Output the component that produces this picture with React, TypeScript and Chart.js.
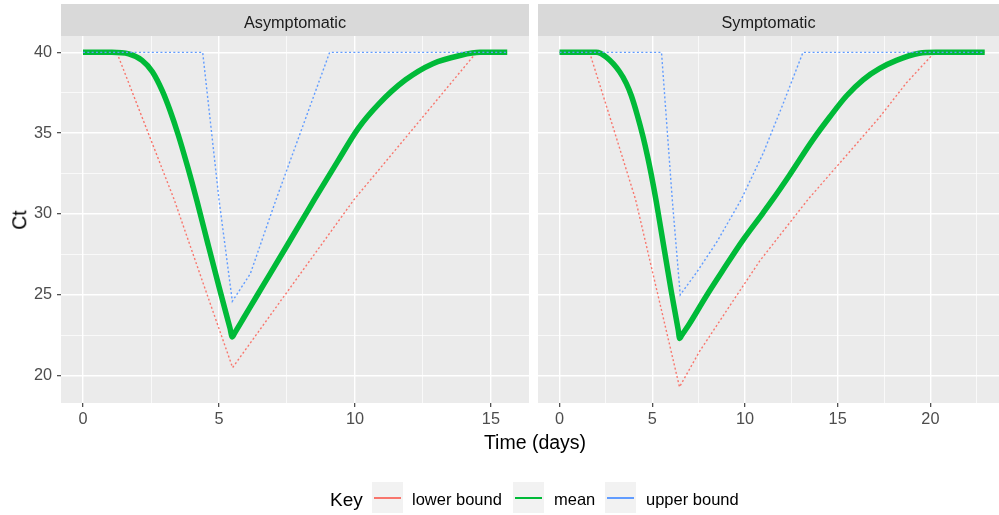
import React, { useEffect, useRef } from "react";
import { Chart, registerables } from "chart.js";

Chart.register(...registerables);

const FONT = '"Liberation Sans", Arial, Helvetica, sans-serif';
const RED = "#F8766D";
const GREEN = "#00BA38";
const BLUE = "#619CFF";

// ---------- data ----------
const seriesNames = ["lower bound", "mean", "upper bound"];
const panelTitles = ["Asymptomatic", "Symptomatic"];

const asymLowerX = [0, 1.24, 2.4, 3.35, 4.4, 5.5, 7.3, 9.97, 12.1, 14.47, 15.6];
const asymLowerY = [40, 40, 35, 30.9, 25.8, 20.5, 24.7, 30.9, 35.2, 40, 40];

const asymMeanX = [0, 1.06, 1.68, 2.17, 2.55, 2.92, 3.2, 3.5, 3.85, 4.19, 4.6, 5.0, 5.4, 5.49, 5.58, 5.9, 6.4, 6.89, 7.52, 8.14, 8.51, 9.38, 10.12, 10.87, 11.86, 12.86, 13.85, 14.6, 15.6];
const asymMeanY = [40, 40, 39.9, 39.5, 38.8, 37.6, 36.4, 34.9, 32.9, 30.8, 28.1, 25.5, 22.97, 22.4, 22.65, 23.55, 24.96, 26.33, 28.1, 29.85, 30.9, 33.3, 35.3, 36.8, 38.3, 39.3, 39.8, 40, 40];

const asymUpperX = [0, 4.4, 5.0, 5.49, 6.15, 7.1, 9.07, 15.6];
const asymUpperY = [40, 40, 30.9, 24.6, 26.3, 30.9, 40, 40];

const sympLowerX = [0, 1.62, 2.88, 4.1, 6.47, 7.55, 9.17, 10.8, 13.4, 15.3, 17.27, 18.7, 20.23, 22.93];
const sympLowerY = [40, 40, 35.4, 30.9, 19.3, 21.5, 24.3, 27.1, 30.9, 33.4, 36.0, 38.1, 40, 40];

const sympMeanX = [0, 1.98, 2.52, 3.24, 3.6, 3.87, 4.2, 4.5, 4.75, 4.95, 5.22, 5.49, 5.76, 6.03, 6.4, 6.48, 6.58, 7.0, 7.9, 8.8, 9.9, 10.97, 11.5, 12.4, 13.67, 14.57, 15.47, 16.37, 17.27, 18.17, 19.4, 20.3, 22.93];
const sympMeanY = [40, 40, 39.7, 38.8, 38.08, 37.33, 36.1, 34.8, 33.55, 32.43, 30.76, 28.9, 27.05, 25.2, 22.84, 22.3, 22.48, 23.2, 24.9, 26.5, 28.4, 30.06, 30.9, 32.4, 34.6, 36.0, 37.3, 38.3, 39.0, 39.5, 39.94, 40, 40];

const sympUpperX = [0, 5.5, 6.08, 6.51, 7.4, 8.5, 9.8, 11.0, 12.05, 13.13, 22.93];
const sympUpperY = [40, 40, 30.9, 25.0, 26.4, 28.3, 30.9, 33.8, 36.8, 40, 40];

const yTicks = [20, 25, 30, 35, 40];
const xTicksAsym = [0, 5, 10, 15];
const xTicksSymp = [0, 5, 10, 15, 20];

// ---------- helpers ----------
const zip = (xs: number[], ys: number[]) => xs.map((x, i) => ({ x, y: ys[i] }));

function withMinor(major: number[], min: number, max: number) {
  const step = major[1] - major[0];
  const out: number[] = [];
  for (let v = major[0] - step; v <= major[major.length - 1] + step + 1e-9; v += step / 2) {
    if (v >= min && v <= max) out.push(Math.round(v * 100) / 100);
  }
  return out;
}

const stripPlugin = {
  id: "strip",
  beforeDraw(chart: any, _args: any, o: any) {
    const { ctx, chartArea: a } = chart;
    ctx.save();
    ctx.fillStyle = "#EBEBEB";
    ctx.fillRect(a.left, a.top, a.right - a.left, a.bottom - a.top);
    ctx.fillStyle = "#D9D9D9";
    ctx.fillRect(a.left, o.top, a.right - a.left, a.top - o.top);
    ctx.fillStyle = "#1A1A1A";
    ctx.font = `16.3px ${FONT}`;
    ctx.textAlign = "center";
    ctx.textBaseline = "alphabetic";
    ctx.fillText(o.text, (a.left + a.right) / 2, 28.3);
    ctx.restore();
  },
};

function makeDatasets(lx: number[], ly: number[], mx: number[], my: number[], ux: number[], uy: number[]) {
  return [
    {
      label: seriesNames[0],
      data: zip(lx, ly),
      borderColor: RED,
      borderWidth: 1.4,
      borderDash: [2, 2.3],
      pointRadius: 0,
      tension: 0,
      order: 2,
    },
    {
      label: seriesNames[1],
      data: zip(mx, my),
      borderColor: GREEN,
      borderWidth: 5.5,
      borderJoinStyle: "round",
      cubicInterpolationMode: "monotone",
      pointRadius: 0,
      order: 1,
    },
    {
      label: seriesNames[2],
      data: zip(ux, uy),
      borderColor: BLUE,
      borderWidth: 1.4,
      borderDash: [2, 2.3],
      pointRadius: 0,
      tension: 0,
      order: 0,
    },
  ];
}

function makeConfig(p: {
  datasets: any[];
  xMin: number;
  xMax: number;
  xMajor: number[];
  showY: boolean;
  padLeft: number;
  padRight: number;
  title: string;
}): any {
  const yMin = 18.31;
  const yMax = 41.01;
  const xAll = withMinor(p.xMajor, p.xMin, p.xMax);
  const yAll = withMinor(yTicks, yMin, yMax);
  const isMajorX = (v: number) => p.xMajor.includes(v);
  const isMajorY = (v: number) => yTicks.includes(v);
  return {
    type: "line",
    data: { datasets: p.datasets },
    options: {
      responsive: false,
      animation: false,
      events: [],
      layout: { padding: { left: p.padLeft, right: p.padRight, top: 36, bottom: 82 } },
      plugins: {
        legend: { display: false },
        tooltip: { enabled: false },
        strip: { text: p.title, top: 4 },
      },
      scales: {
        x: {
          type: "linear",
          min: p.xMin,
          max: p.xMax,
          afterBuildTicks: (s: any) => {
            s.ticks = xAll.map((v) => ({ value: v }));
          },
          afterFit: (s: any) => {
            s.height = 30;
          },
          border: { display: false },
          grid: {
            color: "#FFFFFF",
            lineWidth: (c: any) => (c.tick && isMajorX(c.tick.value) ? 1.4 : 0.7),
            tickColor: (c: any) => (c.tick && isMajorX(c.tick.value) ? "#333333" : "rgba(0,0,0,0)"),
            tickLength: 4,
            tickWidth: 1.1,
          },
          ticks: {
            autoSkip: false,
            maxRotation: 0,
            padding: 3,
            color: "#4D4D4D",
            font: { family: FONT, size: 16.3 },
            callback: (v: number) => (isMajorX(v) ? String(v) : ""),
          },
        },
        y: {
          type: "linear",
          min: yMin,
          max: yMax,
          afterBuildTicks: (s: any) => {
            s.ticks = yAll.map((v) => ({ value: v }));
          },
          afterFit: (s: any) => {
            s.width = p.showY ? 61 : 0;
          },
          border: { display: false },
          grid: {
            color: "#FFFFFF",
            lineWidth: (c: any) => (c.tick && isMajorY(c.tick.value) ? 1.4 : 0.7),
            tickColor: (c: any) => (c.tick && isMajorY(c.tick.value) ? "#333333" : "rgba(0,0,0,0)"),
            tickLength: 4,
            tickWidth: 1.1,
            drawTicks: p.showY,
          },
          ticks: {
            display: p.showY,
            autoSkip: false,
            padding: 5,
            color: "#4D4D4D",
            font: { family: FONT, size: 16.3 },
            callback: (v: number) => (isMajorY(v) ? String(v) : ""),
          },
        },
      },
    },
    plugins: [stripPlugin],
  };
}

const legendItems = [
  { name: seriesNames[0], color: RED, keyLeft: 372, textLeft: 412 },
  { name: seriesNames[1], color: GREEN, keyLeft: 513, textLeft: 554 },
  { name: seriesNames[2], color: BLUE, keyLeft: 605, textLeft: 646 },
];

export default function App() {
  const leftRef = useRef<HTMLCanvasElement | null>(null);
  const rightRef = useRef<HTMLCanvasElement | null>(null);

  useEffect(() => {
    const c1 = new Chart(
      leftRef.current as HTMLCanvasElement,
      makeConfig({
        datasets: makeDatasets(asymLowerX, asymLowerY, asymMeanX, asymMeanY, asymUpperX, asymUpperY),
        xMin: -0.81,
        xMax: 16.4,
        xMajor: xTicksAsym,
        showY: true,
        padLeft: 0,
        padRight: 1,
        title: panelTitles[0],
      })
    );
    const c2 = new Chart(
      rightRef.current as HTMLCanvasElement,
      makeConfig({
        datasets: makeDatasets(sympLowerX, sympLowerY, sympMeanX, sympMeanY, sympUpperX, sympUpperY),
        xMin: -1.16,
        xMax: 23.7,
        xMajor: xTicksSymp,
        showY: false,
        padLeft: 8,
        padRight: 0,
        title: panelTitles[1],
      })
    );
    return () => {
      c1.destroy();
      c2.destroy();
    };
  }, []);

  return (
    <div
      style={{
        position: "absolute",
        left: 0,
        top: 0,
        width: 999,
        height: 515,
        overflow: "hidden",
        background: "#FFFFFF",
        fontFamily: FONT,
      }}
    >
      <canvas ref={leftRef} width={530} height={515} style={{ position: "absolute", left: 0, top: 0 }} />
      <canvas ref={rightRef} width={469} height={515} style={{ position: "absolute", left: 530, top: 0 }} />
      <div
        style={{
          position: "absolute",
          left: 19.5,
          top: 219.5,
          fontSize: 19.5,
          lineHeight: 1,
          color: "#000",
          whiteSpace: "nowrap",
          transform: "translate(-50%, -50%) rotate(-90deg)",
        }}
      >
        Ct
      </div>
      <div
        style={{
          position: "absolute",
          left: 535,
          top: 432.8,
          fontSize: 19.5,
          lineHeight: 1,
          color: "#000",
          whiteSpace: "nowrap",
          transform: "translateX(-50%)",
        }}
      >
        Time (days)
      </div>
      <div
        style={{
          position: "absolute",
          left: 330,
          top: 506 - 16.1,
          fontSize: 19,
          lineHeight: 1,
          color: "#000",
          whiteSpace: "nowrap",
        }}
      >
        Key
      </div>
      {legendItems.map((it) => (
        <React.Fragment key={it.name}>
          <div
            style={{
              position: "absolute",
              left: it.keyLeft,
              top: 482,
              width: 30.5,
              height: 31,
              background: "#F2F2F2",
            }}
          >
            <div
              style={{
                position: "absolute",
                left: 2,
                width: 26.5,
                top: 15,
                height: 1.5,
                backgroundColor: it.color,
              }}
            />
          </div>
          <div
            style={{
              position: "absolute",
              left: it.textLeft,
              top: 505 - 14,
              fontSize: 16.5,
              lineHeight: 1,
              color: "#000",
              whiteSpace: "nowrap",
            }}
          >
            {it.name}
          </div>
        </React.Fragment>
      ))}
    </div>
  );
}
